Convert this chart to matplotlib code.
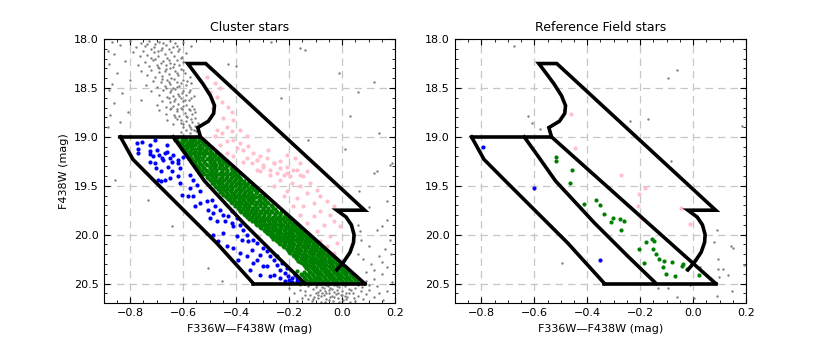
import numpy as np
import matplotlib
matplotlib.use("Agg")
import matplotlib.pyplot as plt
from matplotlib.ticker import MultipleLocator

# ---- selection box outlines (colour, mag) ----
blue_left_x = [-0.837, -0.79, -0.713, -0.60, -0.474, -0.335]
blue_left_y = [19.0, 19.23, 19.44, 19.745, 20.085, 20.5]
mid_x = [-0.638, -0.585, -0.52, -0.373, -0.247, -0.14]
mid_y = [19.0, 19.2, 19.45, 19.88, 20.22, 20.5]
right_line_x = [-0.535, 0.085]
right_line_y = [19.0, 20.5]
pink_x = [-0.535, -0.545, -0.505, -0.485, -0.482, -0.497, -0.525, -0.555, -0.583, -0.515,
          0.085, -0.02, 0.015, 0.035, 0.045, 0.043, 0.03, 0.008, -0.02]
pink_y = [19.0, 18.905, 18.84, 18.76, 18.68, 18.58, 18.46, 18.35, 18.25, 18.25,
          19.75, 19.75, 19.82, 19.9, 20.0, 20.08, 20.18, 20.27, 20.36]

# ---- cluster stars ----
green_rows = [
    (19.02, [-0.625, -0.605, -0.59, -0.57, -0.555, -0.54]),
    (19.05, [-0.615, -0.60, -0.58, -0.565, -0.545, -0.53]),
    (19.08, [-0.61, -0.59, -0.575, -0.555, -0.535, -0.52]),
    (19.11, [-0.60, -0.585, -0.565, -0.545, -0.53, -0.51]),
    (19.14, [-0.59, -0.575, -0.555, -0.54, -0.52, -0.50]),
    (19.17, [-0.585, -0.565, -0.545, -0.53, -0.51, -0.49, -0.475]),
    (19.20, [-0.575, -0.555, -0.54, -0.52, -0.50, -0.485, -0.465]),
    (19.23, [-0.565, -0.55, -0.53, -0.51, -0.495, -0.475, -0.455]),
    (19.26, [-0.555, -0.54, -0.52, -0.50, -0.485, -0.465, -0.445]),
    (19.29, [-0.55, -0.53, -0.51, -0.49, -0.475, -0.455, -0.43]),
    (19.32, [-0.54, -0.52, -0.50, -0.485, -0.465, -0.445, -0.42]),
    (19.35, [-0.53, -0.51, -0.49, -0.475, -0.455, -0.435, -0.41]),
    (19.38, [-0.52, -0.50, -0.485, -0.465, -0.445, -0.425, -0.40]),
    (19.41, [-0.51, -0.49, -0.475, -0.455, -0.435, -0.415, -0.39]),
    (19.44, [-0.50, -0.485, -0.465, -0.445, -0.425, -0.405, -0.38]),
    (19.47, [-0.49, -0.47, -0.455, -0.435, -0.415, -0.395, -0.37, -0.355]),
    (19.50, [-0.48, -0.465, -0.445, -0.425, -0.405, -0.385, -0.36, -0.345]),
    (19.53, [-0.47, -0.45, -0.435, -0.415, -0.395, -0.375, -0.35, -0.335]),
    (19.56, [-0.46, -0.44, -0.42, -0.405, -0.385, -0.365, -0.345, -0.32]),
    (19.59, [-0.45, -0.43, -0.41, -0.395, -0.375, -0.355, -0.335, -0.31]),
    (19.62, [-0.44, -0.42, -0.40, -0.38, -0.36, -0.345, -0.325, -0.30]),
    (19.65, [-0.425, -0.41, -0.39, -0.37, -0.35, -0.335, -0.315, -0.29]),
    (19.68, [-0.415, -0.395, -0.38, -0.36, -0.34, -0.32, -0.30, -0.28]),
    (19.71, [-0.405, -0.385, -0.365, -0.35, -0.33, -0.31, -0.29, -0.265]),
    (19.74, [-0.39, -0.375, -0.355, -0.335, -0.32, -0.30, -0.28, -0.255]),
    (19.77, [-0.38, -0.36, -0.345, -0.325, -0.305, -0.285, -0.265, -0.245, -0.23]),
    (19.80, [-0.365, -0.35, -0.33, -0.315, -0.295, -0.275, -0.255, -0.235, -0.215]),
    (19.83, [-0.345, -0.325, -0.305, -0.285, -0.265, -0.245, -0.225, -0.205]),
    (19.86, [-0.34, -0.32, -0.30, -0.28, -0.26, -0.24, -0.22, -0.20]),
    (19.89, [-0.325, -0.31, -0.29, -0.27, -0.25, -0.23, -0.21, -0.19, -0.175]),
    (19.92, [-0.31, -0.29, -0.275, -0.255, -0.235, -0.215, -0.195, -0.18, -0.165]),
    (19.95, [-0.295, -0.28, -0.26, -0.24, -0.22, -0.20, -0.185, -0.165, -0.15]),
    (19.98, [-0.285, -0.265, -0.245, -0.23, -0.21, -0.19, -0.17, -0.155, -0.14]),
    (20.01, [-0.27, -0.255, -0.235, -0.215, -0.195, -0.18, -0.16, -0.145, -0.125]),
    (20.04, [-0.26, -0.24, -0.22, -0.205, -0.185, -0.165, -0.15, -0.13, -0.115]),
    (20.07, [-0.245, -0.225, -0.21, -0.19, -0.17, -0.155, -0.135, -0.12, -0.10]),
    (20.10, [-0.235, -0.215, -0.195, -0.18, -0.16, -0.14, -0.125, -0.105, -0.09]),
    (20.13, [-0.22, -0.20, -0.185, -0.165, -0.145, -0.13, -0.11, -0.095, -0.075]),
    (20.16, [-0.205, -0.19, -0.17, -0.155, -0.135, -0.115, -0.10, -0.08, -0.065]),
    (20.19, [-0.195, -0.175, -0.16, -0.14, -0.12, -0.105, -0.085, -0.07, -0.05]),
    (20.22, [-0.18, -0.165, -0.145, -0.13, -0.11, -0.09, -0.075, -0.055, -0.04]),
    (20.25, [-0.17, -0.15, -0.135, -0.115, -0.10, -0.08, -0.065, -0.045, -0.025]),
    (20.28, [-0.16, -0.14, -0.12, -0.105, -0.085, -0.07, -0.05, -0.035, -0.015]),
    (20.31, [-0.145, -0.13, -0.11, -0.09, -0.075, -0.06, -0.04, -0.02, -0.005]),
    (20.34, [-0.135, -0.115, -0.10, -0.08, -0.065, -0.045, -0.03, -0.01, 0.005]),
    (20.37, [-0.17, -0.125, -0.105, -0.09, -0.07, -0.055, -0.035, -0.02, 0.0, 0.015]),
    (20.40, [-0.155, -0.135, -0.115, -0.095, -0.08, -0.06, -0.045, -0.025, -0.01, 0.01, 0.03]),
    (20.43, [-0.145, -0.125, -0.105, -0.09, -0.07, -0.05, -0.035, -0.015, 0.0, 0.02, 0.04]),
    (20.46, [-0.135, -0.115, -0.095, -0.08, -0.06, -0.04, -0.025, -0.005, 0.015, 0.03, 0.05]),
    (20.49, [-0.12, -0.10, -0.085, -0.065, -0.05, -0.03, -0.015, 0.005, 0.02, 0.04, 0.06]),
]
green_rows_b = [
    (19.035, [-0.63, -0.595, -0.575, -0.56, -0.535]),
    (19.065, [-0.62, -0.605, -0.585, -0.565, -0.55, -0.525]),
    (19.095, [-0.60, -0.58, -0.565, -0.54, -0.51]),
    (19.125, [-0.605, -0.59, -0.57, -0.555, -0.535, -0.515, -0.50]),
    (19.155, [-0.595, -0.58, -0.56, -0.535, -0.515, -0.495]),
    (19.185, [-0.575, -0.555, -0.54, -0.52, -0.50, -0.48]),
    (19.215, [-0.57, -0.545, -0.53, -0.505, -0.49, -0.47, -0.455]),
    (19.245, [-0.56, -0.54, -0.52, -0.50, -0.485, -0.465, -0.45]),
    (19.275, [-0.555, -0.535, -0.515, -0.495, -0.48, -0.46, -0.44]),
    (19.305, [-0.545, -0.525, -0.50, -0.48, -0.46, -0.44]),
    (19.335, [-0.535, -0.515, -0.495, -0.475, -0.455, -0.435, -0.415]),
    (19.365, [-0.525, -0.50, -0.48, -0.46, -0.44, -0.42, -0.405]),
    (19.395, [-0.51, -0.495, -0.475, -0.455, -0.435, -0.41, -0.395]),
    (19.425, [-0.505, -0.48, -0.46, -0.44, -0.42, -0.40, -0.385]),
    (19.455, [-0.49, -0.475, -0.455, -0.43, -0.41, -0.39, -0.37]),
    (19.485, [-0.485, -0.46, -0.44, -0.42, -0.40, -0.38, -0.365]),
    (19.515, [-0.475, -0.455, -0.435, -0.415, -0.39, -0.37, -0.34]),
    (19.545, [-0.46, -0.445, -0.425, -0.40, -0.38, -0.36, -0.33]),
    (19.575, [-0.455, -0.435, -0.415, -0.39, -0.37, -0.35, -0.325]),
    (19.605, [-0.44, -0.425, -0.405, -0.385, -0.365, -0.34, -0.315]),
    (19.635, [-0.43, -0.41, -0.39, -0.375, -0.355, -0.335, -0.31, -0.295]),
    (19.665, [-0.42, -0.40, -0.38, -0.365, -0.345, -0.325, -0.305, -0.285]),
    (19.695, [-0.405, -0.39, -0.37, -0.35, -0.33, -0.31, -0.29, -0.27]),
    (19.725, [-0.395, -0.375, -0.36, -0.34, -0.32, -0.30, -0.28, -0.26]),
    (19.755, [-0.385, -0.365, -0.345, -0.33, -0.31, -0.29, -0.27, -0.25]),
    (19.785, [-0.37, -0.355, -0.335, -0.315, -0.295, -0.275, -0.255, -0.235]),
    (19.815, [-0.36, -0.34, -0.32, -0.30, -0.28, -0.26, -0.24, -0.22]),
    (19.845, [-0.35, -0.33, -0.31, -0.29, -0.27, -0.25, -0.23, -0.21, -0.195]),
    (19.875, [-0.33, -0.31, -0.295, -0.275, -0.255, -0.235, -0.215, -0.195, -0.18]),
    (19.905, [-0.32, -0.30, -0.28, -0.26, -0.24, -0.225, -0.205, -0.185, -0.17]),
    (19.935, [-0.305, -0.285, -0.265, -0.25, -0.23, -0.21, -0.19, -0.175, -0.155]),
    (19.965, [-0.29, -0.27, -0.25, -0.235, -0.215, -0.195, -0.175, -0.16, -0.145]),
    (19.995, [-0.275, -0.26, -0.24, -0.22, -0.20, -0.185, -0.165, -0.15, -0.13]),
    (20.025, [-0.265, -0.245, -0.225, -0.21, -0.19, -0.17, -0.155, -0.135, -0.12]),
    (20.055, [-0.25, -0.23, -0.215, -0.195, -0.175, -0.16, -0.14, -0.125, -0.105]),
    (20.085, [-0.24, -0.22, -0.20, -0.185, -0.165, -0.145, -0.13, -0.11, -0.095]),
    (20.115, [-0.225, -0.205, -0.19, -0.17, -0.15, -0.135, -0.115, -0.10, -0.08]),
    (20.145, [-0.21, -0.195, -0.175, -0.16, -0.14, -0.12, -0.105, -0.085, -0.07]),
    (20.175, [-0.20, -0.18, -0.165, -0.145, -0.125, -0.11, -0.09, -0.075, -0.055]),
    (20.205, [-0.185, -0.17, -0.15, -0.135, -0.115, -0.095, -0.08, -0.06, -0.045]),
    (20.235, [-0.175, -0.155, -0.14, -0.12, -0.105, -0.085, -0.07, -0.05, -0.03]),
    (20.265, [-0.165, -0.145, -0.125, -0.11, -0.09, -0.075, -0.055, -0.04, -0.02]),
    (20.295, [-0.15, -0.135, -0.115, -0.095, -0.08, -0.065, -0.045, -0.025, -0.01]),
    (20.325, [-0.14, -0.12, -0.105, -0.085, -0.07, -0.05, -0.035, -0.015, 0.0]),
    (20.355, [-0.13, -0.11, -0.095, -0.075, -0.06, -0.04, -0.025, -0.005, 0.01]),
    (20.385, [-0.145, -0.12, -0.10, -0.085, -0.065, -0.05, -0.03, -0.015, 0.005, 0.02]),
    (20.415, [-0.15, -0.13, -0.11, -0.09, -0.075, -0.055, -0.04, -0.02, -0.005, 0.015, 0.035]),
    (20.445, [-0.14, -0.12, -0.10, -0.085, -0.065, -0.045, -0.03, -0.01, 0.01, 0.025, 0.045]),
    (20.475, [-0.125, -0.105, -0.09, -0.07, -0.055, -0.035, -0.02, 0.0, 0.015, 0.035, 0.055]),
]

blue_pts = [
    (-0.776, 19.06), (-0.757, 19.05), (-0.726, 19.08), (-0.707, 19.03), (-0.66, 19.08),
    (-0.77, 19.12), (-0.726, 19.14), (-0.70, 19.13), (-0.66, 19.15), (-0.64, 19.19),
    (-0.726, 19.18), (-0.713, 19.2), (-0.69, 19.19), (-0.65, 19.22), (-0.68, 19.22),
    (-0.77, 19.16), (-0.67, 19.17), (-0.62, 19.24), (-0.60, 19.21),
    (-0.726, 19.252), (-0.707, 19.269), (-0.676, 19.235), (-0.644, 19.252), (-0.619, 19.269),
    (-0.657, 19.303), (-0.701, 19.32), (-0.682, 19.354), (-0.644, 19.354), (-0.612, 19.32),
    (-0.694, 19.439), (-0.682, 19.456), (-0.669, 19.439), (-0.650, 19.422), (-0.619, 19.405),
    (-0.612, 19.473), (-0.575, 19.388), (-0.562, 19.439), (-0.549, 19.49), (-0.575, 19.524),
    (-0.537, 19.558), (-0.606, 19.592), (-0.581, 19.609), (-0.562, 19.609), (-0.537, 19.677),
    (-0.556, 19.711), (-0.512, 19.66), (-0.493, 19.643), (-0.480, 19.711), (-0.505, 19.745),
    (-0.486, 19.779), (-0.461, 19.745), (-0.448, 19.796), (-0.430, 19.813), (-0.417, 19.762),
    (-0.499, 19.83), (-0.474, 19.864), (-0.442, 19.864), (-0.417, 19.881), (-0.398, 19.83),
    (-0.385, 19.898), (-0.411, 19.915), (-0.373, 19.949), (-0.360, 20.0), (-0.398, 20.017),
    (-0.379, 20.051), (-0.354, 20.068), (-0.335, 20.051), (-0.322, 20.085), (-0.341, 20.153),
    (-0.297, 20.136), (-0.284, 20.17), (-0.310, 20.204), (-0.272, 20.221), (-0.259, 20.255),
    (-0.247, 20.306), (-0.284, 20.323), (-0.234, 20.357), (-0.215, 20.391), (-0.203, 20.425),
    (-0.190, 20.442), (-0.171, 20.442), (-0.158, 20.459), (-0.177, 20.408), (-0.209, 20.34),
    (-0.228, 20.289), (-0.247, 20.221), (-0.322, 20.255), (-0.297, 20.323), (-0.259, 20.408),
    (-0.234, 20.442), (-0.215, 20.476), (-0.272, 20.425), (-0.448, 19.983), (-0.486, 20.0),
    (-0.467, 20.068), (-0.436, 20.119), (-0.411, 20.136), (-0.385, 20.187), (-0.360, 20.221),
    (-0.335, 20.289), (-0.392, 20.255), (-0.348, 20.357), (-0.310, 20.408), (-0.19, 20.48),
    (-0.17, 20.47), (-0.20, 20.46),
]

pink_pts = [
    (-0.512, 18.384), (-0.480, 18.452), (-0.499, 18.537), (-0.474, 18.588), (-0.455, 18.639),
    (-0.486, 18.707), (-0.430, 18.69), (-0.417, 18.741), (-0.448, 18.809), (-0.411, 18.826),
    (-0.436, 18.894), (-0.474, 18.928), (-0.480, 18.996), (-0.455, 18.962), (-0.417, 18.945),
    (-0.385, 18.928), (-0.360, 18.996), (-0.385, 19.064), (-0.411, 19.03), (-0.436, 19.047),
    (-0.461, 19.081), (-0.398, 19.115), (-0.373, 19.132), (-0.354, 19.098), (-0.335, 19.166),
    (-0.310, 19.2), (-0.322, 19.234), (-0.284, 19.217), (-0.259, 19.268), (-0.360, 19.217),
    (-0.341, 19.268), (-0.411, 19.2), (-0.436, 19.166), (-0.278, 19.132), (-0.234, 19.251),
    (-0.209, 19.303), (-0.184, 19.337), (-0.158, 19.268), (-0.177, 19.217), (-0.209, 19.183),
    (-0.297, 19.303), (-0.272, 19.337), (-0.247, 19.371), (-0.322, 19.337), (-0.221, 19.388),
    (-0.196, 19.405), (-0.158, 19.388), (-0.133, 19.354), (-0.373, 19.252), (-0.322, 19.235),
    (-0.297, 19.286), (-0.259, 19.269), (-0.234, 19.32), (-0.310, 19.354), (-0.272, 19.388),
    (-0.209, 19.371), (-0.171, 19.337), (-0.146, 19.405), (-0.234, 19.439), (-0.190, 19.473),
    (-0.158, 19.507), (-0.121, 19.473), (-0.095, 19.541), (-0.209, 19.558), (-0.133, 19.575),
    (-0.083, 19.609), (-0.171, 19.626), (-0.108, 19.677), (-0.058, 19.66), (-0.032, 19.711),
    (-0.146, 19.711), (-0.083, 19.762), (-0.045, 19.796), (-0.108, 19.813), (-0.032, 19.864),
    (-0.070, 19.898), (-0.007, 19.915), (-0.095, 19.966), (-0.045, 20.017), (-0.020, 20.085),
    (-0.058, 20.119), (-0.083, 20.068), (-0.032, 20.187), (-0.259, 19.507), (-0.221, 19.609),
    (-0.184, 19.711), (-0.158, 19.796), (-0.133, 19.881), (-0.46, 18.50), (-0.50, 18.30),
]

gray_cluster = [
    # upper sequence
    (-0.87, 18.03), (-0.84, 18.06), (-0.80, 18.02), (-0.78, 18.08), (-0.76, 18.04), (-0.745, 18.07),
    (-0.73, 18.02), (-0.72, 18.1), (-0.705, 18.05), (-0.69, 18.03), (-0.68, 18.09), (-0.665, 18.06),
    (-0.65, 18.02), (-0.64, 18.08), (-0.63, 18.04), (-0.615, 18.1), (-0.60, 18.03), (-0.57, 18.07),
    (-0.86, 18.15), (-0.79, 18.13), (-0.765, 18.17), (-0.75, 18.12), (-0.735, 18.16), (-0.72, 18.19),
    (-0.71, 18.13), (-0.695, 18.17), (-0.685, 18.11), (-0.67, 18.15), (-0.66, 18.19), (-0.645, 18.13),
    (-0.635, 18.17), (-0.62, 18.12), (-0.605, 18.18), (-0.59, 18.14),
    (-0.88, 18.25), (-0.82, 18.22), (-0.77, 18.27), (-0.745, 18.23), (-0.73, 18.28), (-0.715, 18.21),
    (-0.70, 18.26), (-0.69, 18.3), (-0.675, 18.22), (-0.665, 18.27), (-0.65, 18.24), (-0.64, 18.29),
    (-0.625, 18.21), (-0.615, 18.26), (-0.60, 18.23), (-0.58, 18.28),
    (-0.85, 18.35), (-0.76, 18.33), (-0.735, 18.37), (-0.72, 18.32), (-0.705, 18.39), (-0.69, 18.34),
    (-0.68, 18.38), (-0.665, 18.31), (-0.655, 18.36), (-0.645, 18.4), (-0.63, 18.33), (-0.62, 18.37),
    (-0.61, 18.31), (-0.595, 18.35), (-0.575, 18.39),
    (-0.87, 18.46), (-0.80, 18.42), (-0.74, 18.47), (-0.715, 18.43), (-0.70, 18.49), (-0.685, 18.44),
    (-0.67, 18.48), (-0.66, 18.42), (-0.65, 18.46), (-0.64, 18.5), (-0.625, 18.44), (-0.615, 18.48),
    (-0.60, 18.42), (-0.59, 18.47), (-0.57, 18.45),
    (-0.83, 18.55), (-0.72, 18.53), (-0.69, 18.57), (-0.675, 18.52), (-0.66, 18.59), (-0.65, 18.54),
    (-0.64, 18.58), (-0.63, 18.51), (-0.62, 18.56), (-0.61, 18.6), (-0.60, 18.53), (-0.59, 18.57),
    (-0.575, 18.52), (-0.56, 18.58),
    (-0.86, 18.65), (-0.76, 18.62), (-0.70, 18.67), (-0.68, 18.63), (-0.665, 18.69), (-0.65, 18.64),
    (-0.64, 18.68), (-0.63, 18.61), (-0.62, 18.66), (-0.61, 18.7), (-0.60, 18.63), (-0.59, 18.67),
    (-0.58, 18.62), (-0.565, 18.68),
    (-0.81, 18.75), (-0.69, 18.73), (-0.665, 18.77), (-0.65, 18.72), (-0.635, 18.78), (-0.625, 18.74),
    (-0.615, 18.79), (-0.605, 18.72), (-0.595, 18.76), (-0.585, 18.8), (-0.575, 18.73), (-0.565, 18.77),
    (-0.555, 18.75),
    (-0.84, 18.85), (-0.66, 18.83), (-0.64, 18.87), (-0.625, 18.82), (-0.61, 18.86), (-0.60, 18.9),
    (-0.59, 18.84), (-0.58, 18.88), (-0.57, 18.92), (-0.565, 18.85), (-0.555, 18.89), (-0.55, 18.94),
    (-0.545, 18.86), (-0.59, 18.93), (-0.61, 18.95),
    (-0.735, 18.05), (-0.71, 18.08), (-0.695, 18.12), (-0.675, 18.04), (-0.655, 18.1), (-0.625, 18.07),
    (-0.705, 18.2), (-0.685, 18.24), (-0.655, 18.21), (-0.635, 18.25), (-0.61, 18.19), (-0.695, 18.29),
    (-0.67, 18.33), (-0.65, 18.3), (-0.625, 18.35), (-0.60, 18.32), (-0.68, 18.41), (-0.655, 18.44),
    (-0.635, 18.41), (-0.61, 18.45), (-0.585, 18.43), (-0.665, 18.5), (-0.645, 18.52), (-0.625, 18.49),
    (-0.605, 18.55), (-0.58, 18.54), (-0.655, 18.6), (-0.635, 18.63), (-0.615, 18.58), (-0.595, 18.62),
    (-0.57, 18.6), (-0.645, 18.7), (-0.625, 18.71), (-0.60, 18.68), (-0.58, 18.71), (-0.56, 18.72),
    (-0.63, 18.8), (-0.61, 18.83), (-0.59, 18.79), (-0.57, 18.82), (-0.555, 18.81), (-0.60, 18.87),
    (-0.575, 18.9), (-0.56, 18.93), (-0.575, 18.96), (-0.60, 18.98),
    # left edge and scattered field
    (-0.885, 18.12), (-0.88, 18.52), (-0.875, 18.78), (-0.885, 18.9), (-0.858, 19.44),
    (-0.732, 19.643), (-0.644, 19.915), (-0.505, 20.34), (-0.455, 20.476),
    (-0.43, 18.25), (-0.40, 18.28), (-0.23, 18.6), (-0.16, 18.09), (-0.14, 18.11), (-0.01, 18.35),
    (0.06, 18.54), (0.12, 18.44), (0.03, 18.79), (0.14, 18.96), (0.19, 19.27), (0.01, 19.12),
    (-0.13, 19.03), (0.13, 19.35), (-0.27, 18.03), (0.119, 19.371), (0.062, 19.558), (0.182, 19.286),
    (0.151, 19.915), (0.068, 19.966), (0.17, 19.66), (0.10, 19.72),
    # right of the box
    (0.05, 20.42), (0.09, 20.38), (0.12, 20.45), (0.15, 20.4), (0.17, 20.33), (0.11, 20.3),
    (0.08, 20.25), (0.14, 20.22), (0.16, 20.15), (0.10, 20.12), (0.07, 20.05), (0.18, 20.05),
    (0.13, 19.95), (0.06, 19.9), (0.17, 19.85), (0.19, 20.48), (0.17, 20.58), (0.09, 20.47),
    (0.06, 20.2), (0.12, 20.36), (0.15, 20.28), (0.185, 20.2),
    # lower main sequence below the box
    (-0.20, 20.55), (-0.18, 20.6), (-0.16, 20.52), (-0.15, 20.65), (-0.14, 20.58), (-0.13, 20.53),
    (-0.12, 20.62), (-0.115, 20.68), (-0.11, 20.56), (-0.10, 20.6), (-0.095, 20.52), (-0.09, 20.65),
    (-0.085, 20.57), (-0.08, 20.69), (-0.075, 20.54), (-0.07, 20.62), (-0.065, 20.58), (-0.06, 20.66),
    (-0.055, 20.53), (-0.05, 20.6), (-0.045, 20.64), (-0.04, 20.56), (-0.035, 20.68), (-0.03, 20.52),
    (-0.025, 20.61), (-0.02, 20.57), (-0.015, 20.65), (-0.01, 20.54), (-0.005, 20.62), (0.0, 20.58),
    (0.005, 20.67), (0.01, 20.53), (0.015, 20.6), (0.02, 20.64), (0.025, 20.56), (0.03, 20.69),
    (0.04, 20.6), (0.05, 20.55), (0.06, 20.63), (0.07, 20.58), (0.08, 20.66), (0.09, 20.61),
    (0.10, 20.57), (0.12, 20.64), (0.14, 20.6), (0.155, 20.67), (-0.17, 20.68), (-0.13, 20.66),
    (-0.105, 20.64), (-0.09, 20.59), (-0.07, 20.55), (-0.05, 20.67), (-0.03, 20.59), (-0.01, 20.69),
    (0.01, 20.63), (0.035, 20.57), (-0.06, 20.51), (-0.02, 20.5), (0.02, 20.5), (0.06, 20.52),
    (0.10, 20.51), (0.13, 20.53), (-0.12, 20.5), (-0.075, 20.6), (-0.045, 20.55), (-0.015, 20.6),
    (0.015, 20.66), (-0.04, 20.63), (-0.10, 20.54), (-0.065, 20.69), (0.045, 20.65), (0.075, 20.54),
    (-0.09, 20.62), (-0.06, 20.6), (-0.03, 20.64), (0.0, 20.62), (-0.05, 20.57), (-0.02, 20.53),
    (0.025, 20.6), (-0.11, 20.66), (-0.08, 20.63), (0.05, 20.68), (-0.14, 20.62), (-0.16, 20.57),
]

# ---- reference field stars ----
field_green = [
    (-0.519, 19.204), (-0.519, 19.245), (-0.459, 19.34), (-0.466, 19.473), (-0.414, 19.687),
    (-0.368, 19.647), (-0.351, 19.698), (-0.337, 19.786), (-0.303, 19.83), (-0.311, 19.871),
    (-0.278, 19.837), (-0.263, 19.857), (-0.273, 19.949), (-0.156, 20.044), (-0.180, 20.075),
    (-0.147, 20.068), (-0.205, 20.143), (-0.153, 20.147), (-0.141, 20.194), (-0.129, 20.249),
    (-0.109, 20.269), (-0.186, 20.289), (-0.079, 20.276), (-0.040, 20.296), (-0.041, 20.317),
    (-0.115, 20.334), (-0.025, 20.35), (-0.103, 20.402), (-0.070, 20.419), (0.023, 20.408),
]
field_pink = [
    (-0.462, 18.769), (-0.446, 19.116), (-0.272, 19.391), (-0.203, 19.582), (-0.182, 19.521),
    (-0.209, 19.708), (-0.196, 19.83), (-0.047, 19.728), (-0.012, 19.891),
]
field_blue = [(-0.793, 19.102), (-0.602, 19.521), (-0.353, 20.255)]
field_gray = [
    (-0.677, 18.068), (-0.097, 18.394), (-0.063, 18.316), (-0.624, 18.786), (-0.610, 18.854),
    (-0.580, 18.922), (-0.548, 18.901), (-0.240, 18.837), (-0.170, 18.816), (0.185, 18.888),
    (-0.084, 19.245), (0.090, 19.956), (0.080, 20.079), (0.141, 20.119), (0.149, 20.14),
    (0.093, 20.249), (0.193, 20.306), (0.093, 20.347), (0.112, 20.35), (0.131, 20.415),
    (0.096, 20.432), (0.026, 20.334), (-0.494, 20.289), (-0.012, 20.52), (-0.134, 20.544),
    (-0.097, 20.544), (-0.061, 20.64), (0.004, 20.646), (0.090, 20.63), (0.147, 20.578),
]

green_x = [x for y, xs in green_rows + green_rows_b for x in xs]
green_y = [y for y, xs in green_rows + green_rows_b for x in xs]


def draw_boxes(ax):
    kw = dict(color="black", lw=2.6, solid_joinstyle="miter", solid_capstyle="projecting", zorder=5)
    ax.plot([blue_left_x[0], right_line_x[0]], [19.0, 19.0], **kw)
    ax.plot([blue_left_x[-1], right_line_x[-1]], [20.5, 20.5], **kw)
    ax.plot(blue_left_x, blue_left_y, **kw)
    ax.plot(mid_x, mid_y, **kw)
    ax.plot(right_line_x, right_line_y, **kw)
    ax.plot(pink_x, pink_y, **kw)


def style_axes(ax, title):
    ax.set_xlim(-0.9, 0.2)
    ax.set_ylim(20.7, 18.0)
    ax.xaxis.set_major_locator(MultipleLocator(0.2))
    ax.xaxis.set_minor_locator(MultipleLocator(0.05))
    ax.yaxis.set_major_locator(MultipleLocator(0.5))
    ax.yaxis.set_minor_locator(MultipleLocator(0.1))
    ax.tick_params(which="both", direction="in", top=True, right=True, labelsize=8)
    ax.tick_params(which="major", length=4)
    ax.tick_params(which="minor", length=2)
    ax.grid(True, which="major", ls=(0, (6, 4)), color="0.78", lw=0.9)
    ax.set_axisbelow(True)
    ax.set_title(title, fontsize=9)
    ax.set_xlabel("F336W\u2014F438W (mag)", fontsize=8)


fig, (ax1, ax2) = plt.subplots(1, 2, figsize=(8.3, 3.46), dpi=100)
fig.subplots_adjust(left=0.125, right=0.899, top=0.887, bottom=0.124, wspace=0.205)

g = np.array(gray_cluster)
ax1.scatter(g[:, 0], g[:, 1], s=3, c="gray", lw=0, zorder=2)
p = np.array(pink_pts)
ax1.scatter(p[:, 0], p[:, 1], s=9, c="pink", lw=0, zorder=3)
ax1.scatter(green_x, green_y, s=9, c="green", lw=0, zorder=3)
b = np.array(blue_pts)
ax1.scatter(b[:, 0], b[:, 1], s=9, c="blue", lw=0, zorder=3)
draw_boxes(ax1)
style_axes(ax1, "Cluster stars")
ax1.set_ylabel("F438W (mag)", fontsize=8)

fg = np.array(field_gray)
ax2.scatter(fg[:, 0], fg[:, 1], s=3, c="gray", lw=0, zorder=2)
fp = np.array(field_pink)
ax2.scatter(fp[:, 0], fp[:, 1], s=9, c="pink", lw=0, zorder=3)
fgr = np.array(field_green)
ax2.scatter(fgr[:, 0], fgr[:, 1], s=9, c="green", lw=0, zorder=3)
fb = np.array(field_blue)
ax2.scatter(fb[:, 0], fb[:, 1], s=9, c="blue", lw=0, zorder=3)
draw_boxes(ax2)
style_axes(ax2, "Reference Field stars")

fig.savefig("out.png", dpi=100)
